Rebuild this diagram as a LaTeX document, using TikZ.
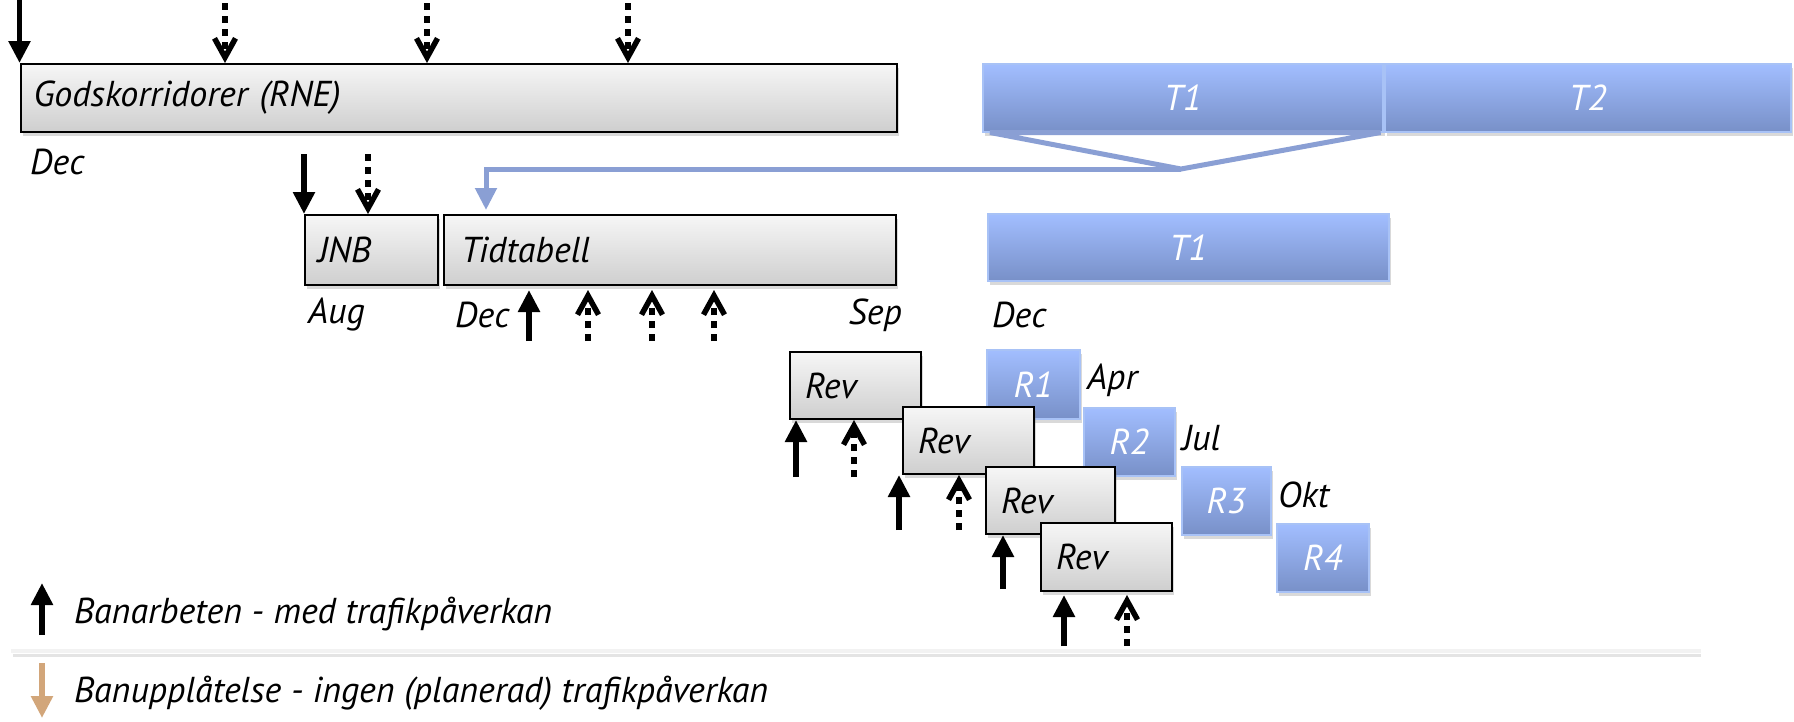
\documentclass[tikz,border=0pt]{standalone}
\usepackage{fontspec}
\setmainfont{PT Sans}
\usetikzlibrary{arrows.meta,shadows}

\definecolor{bluetop}{HTML}{A2BEFF}
\definecolor{bluebot}{HTML}{7890C8}
\definecolor{blueedge}{HTML}{A8C2F6}
\definecolor{blueline}{HTML}{8A9FD4}
\definecolor{tan}{HTML}{D2A67A}

\newcommand{\diagfont}{\fontsize{36}{40}\selectfont\itshape}

\tikzset{
  greybox/.style={draw=black, line width=2, top color=gray!7, bottom color=gray!38,
    drop shadow={shadow xshift=2pt, shadow yshift=-4pt, opacity=.3},
    anchor=north west, inner xsep=13pt, inner ysep=0pt, align=left, font=\diagfont},
  bluebox/.style={draw=blueedge, line width=1.5, top color=bluetop, bottom color=bluebot,
    drop shadow={shadow xshift=2pt, shadow yshift=-4pt, opacity=.3},
    anchor=north west, text=white, font=\diagfont, inner sep=0pt},
  datelbl/.style={anchor=west, font=\diagfont, inner sep=0pt},
  solidarr/.style={line width=5.5, -{Triangle[length=22,width=21]}},
  dotarr/.style={line width=5.5, dash pattern=on 7 off 6, -{Straight Barb[length=19,width=21]}},
  connline/.style={draw=blueline, line width=5}
}

\begin{document}
\begin{tikzpicture}[x=1pt, y=-1pt]
\useasboundingbox (0,0) rectangle (1794,721);

% boxes
\node[greybox, minimum height=68, text width=850] (god) at (19.5,63) {Godskorridorer (RNE)};
\node[greybox, minimum height=70, text width=107] (jnb) at (304,214) {JNB};
\node[greybox, minimum height=70, inner xsep=17pt, text width=418] (tid) at (443,214) {Tidtabell};

\node[bluebox, minimum width=400, minimum height=68] (t1a) at (982,63) {T1};
\node[bluebox, minimum width=406, minimum height=68] (t2) at (1384,63) {T2};
\node[bluebox, minimum width=401, minimum height=67] (t1b) at (987,213) {T1};

% revisions
\node[bluebox, minimum width=93, minimum height=69] (r1) at (986,349) {R1};
\node[bluebox, minimum width=91, minimum height=68] (r2) at (1083,407) {R2};
\node[bluebox, minimum width=89, minimum height=68] (r3) at (1181,466) {R3};
\node[bluebox, minimum width=92, minimum height=68] (r4) at (1276,523) {R4};

\node[greybox, minimum height=67, text width=101, inner xsep=15pt] (rev1) at (789,351) {Rev};
\node[greybox, minimum height=67, text width=101, inner xsep=15pt] (rev2) at (902,406) {Rev};
\node[greybox, minimum height=67, text width=99, inner xsep=15pt] (rev3) at (985,466) {Rev};
\node[greybox, minimum height=68, text width=101, inner xsep=15pt] (rev4) at (1040,522) {Rev};

% dates
\node[datelbl] (dec1) at (30,162) {Dec};
\node[datelbl] (aug) at (308,315) {Aug};
\node[datelbl] (dec2) at (455,315) {Dec};
\node[datelbl, anchor=east] (sep) at (902,315) {Sep};
\node[datelbl] (dec3) at (992,315) {Dec};
\node[datelbl] (apr) at (1087,380) {Apr};
\node[datelbl] (jul) at (1182,438) {Jul};
\node[datelbl] (okt) at (1278,495) {Okt};

% T1 -> Tidtabell
\coordinate (apex) at (1181,169);
\coordinate (bend) at (486,169);
\draw[connline, fill=white] ([xshift=8]t1a.south west) -- (apex) -- ([xshift=-3]t1a.south east) -- cycle;
\draw[connline, -{Triangle[length=22,width=21]}, shorten >=4pt] (apex) -- (bend) -- (bend |- tid.north);

% arrows down
\coordinate (g0) at (19.5,0);
\draw[solidarr] (g0) -- (g0 |- god.north);
\foreach \x/\n in {225/g1, 427/g2, 628/g3} {
  \coordinate (\n) at (\x,3);
  \draw[dotarr] (\n) -- (\n |- god.north);
}
\coordinate (j0) at (304,154);
\coordinate (j1) at (368,154);
\draw[solidarr] (j0) -- (j0 |- jnb.north);
\draw[dotarr] (j1) -- (j1 |- jnb.north);

% arrows up
\coordinate (k0) at (529,341);
\draw[solidarr, shorten >=4pt] (k0) -- (k0 |- tid.south);
\foreach \x/\n in {588/k1, 652/k2, 714/k3} {
  \coordinate (\n) at (\x,341);
  \draw[dotarr, shorten >=4pt] (\n) -- (\n |- tid.south);
}
\coordinate (a1) at (796,477);
\coordinate (b1) at (854,477);
\draw[solidarr] (a1) -- (a1 |- rev1.south);
\draw[dotarr] (b1) -- (b1 |- rev1.south);
\coordinate (a2) at (899,530);
\coordinate (b2) at (959,530);
\draw[solidarr] (a2) -- (a2 |- rev2.south);
\draw[dotarr] (b2) -- (b2 |- rev2.south);
\coordinate (a3) at (1003,589);
\draw[solidarr] (a3) -- (a3 |- rev3.south);
\coordinate (a4) at (1064,646);
\coordinate (b4) at (1127,646);
\draw[solidarr, shorten >=3pt] (a4) -- (a4 |- rev4.south);
\draw[dotarr, shorten >=3pt] (b4) -- (b4 |- rev4.south);

% legend
\draw[gray!35, line width=3, opacity=.6] (13,655) -- (1701,655);
\draw[gray!10, line width=4] (11,651) -- (1701,651);
\coordinate (l0) at (42,635);
\coordinate (l1) at (42,583);
\draw[solidarr] (l0) -- (l1);
\node[datelbl] (leg1) at (74,614) {Banarbeten - med trafikpåverkan};
\coordinate (l2) at (42,663);
\coordinate (l3) at (42,718);
\draw[solidarr, tan] (l2) -- (l3);
\node[datelbl] (leg2) at (74,693) {Banupplåtelse - ingen (planerad) trafikpåverkan};
\end{tikzpicture}
\end{document}
